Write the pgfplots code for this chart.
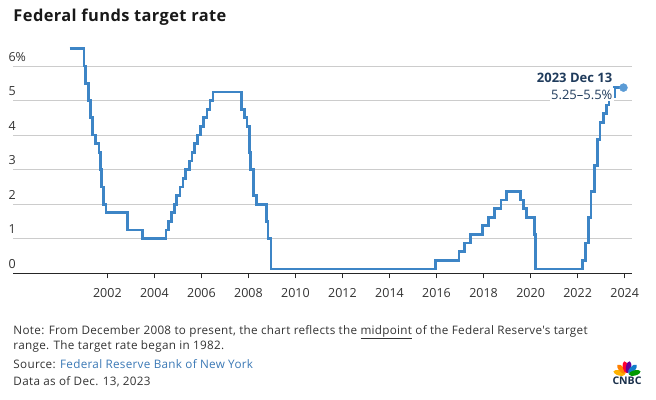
\documentclass[border=0pt]{standalone}
\usepackage{pgfplots}
\pgfplotsset{compat=1.18}
\usepackage{pgfplotstable}
\usepackage{fontspec}
\setmainfont{Open Sans}
\newfontfamily\widefont[LetterSpace=2.5]{Open Sans}

\definecolor{fedblue}{HTML}{3D85C6}
\definecolor{dotblue}{HTML}{5B9BD5}
\definecolor{navy}{HTML}{1F3B5C}
\definecolor{txt}{HTML}{333333}
\definecolor{gridc}{HTML}{CCCCCC}
\definecolor{srcblue}{HTML}{3A78B5}

% target rate (midpoint of range after Dec 2008), decimal year
\pgfplotstableread{
year rate
2000.40 6.5
2001.005 6.0
2001.08 5.5
2001.21 5.0
2001.29 4.5
2001.37 4.0
2001.49 3.75
2001.64 3.5
2001.71 3.0
2001.75 2.5
2001.85 2.0
2001.94 1.75
2002.85 1.25
2003.48 1.0
2004.49 1.25
2004.61 1.5
2004.72 1.75
2004.86 2.0
2004.95 2.25
2005.09 2.5
2005.22 2.75
2005.33 3.0
2005.49 3.25
2005.60 3.5
2005.72 3.75
2005.83 4.0
2005.95 4.25
2006.08 4.5
2006.24 4.75
2006.36 5.0
2006.49 5.25
2007.71 4.75
2007.83 4.5
2007.94 4.25
2008.06 3.5
2008.08 3.0
2008.21 2.25
2008.33 2.0
2008.77 1.5
2008.83 1.0
2008.96 0.125
2015.96 0.375
2016.95 0.625
2017.20 0.875
2017.45 1.125
2017.95 1.375
2018.22 1.625
2018.45 1.875
2018.74 2.125
2018.97 2.375
2019.58 2.125
2019.71 1.875
2019.83 1.625
2020.17 1.125
2020.20 0.125
2022.20 0.375
2022.34 0.875
2022.45 1.625
2022.57 2.375
2022.72 3.125
2022.84 3.875
2022.95 4.375
2023.09 4.625
2023.22 4.875
2023.34 5.125
2023.57 5.375
2023.95 5.375
}\fedrate

\begin{document}
\begin{tikzpicture}
\useasboundingbox (0,0) rectangle (656bp,400bp);
\begin{axis}[
  at={(13.3bp,126.7bp)}, anchor=south west,
  scale only axis, width=618.4bp, height=228bp,
  xmin=1998, xmax=2024.3, ymin=0, ymax=6.6,
  axis x line=bottom, axis y line=left,
  y axis line style={draw=none},
  x axis line style={black!85, line width=1.2bp, -},
  xtick={2002,2004,...,2024},
  xticklabels={2002,2004,2006,2008,2010,2012,2014,2016,2018,2020,2022,2024},
  ytick={0,1,2,3,4,5,6},
  yticklabels={0,1,2,3,4,5,6\%},
  ymajorgrids, major grid style={gridc, line width=1bp},
  tick align=outside, major tick length=5bp,
  x tick style={black!85, line width=1bp},
  y tick style={draw=none},
  xticklabel style={font=\fontsize{12.5bp}{14bp}\selectfont, text=txt, anchor=base, yshift=-19bp},
  yticklabel style={font=\fontsize{12.5bp}{14bp}\selectfont, text=txt, anchor=base west, inner sep=0pt, yshift=5bp},
  clip=false,
]
\addplot[const plot, fedblue, line width=2.7bp] table[x=year, y=rate] {\fedrate};
\addplot[only marks, mark=*, mark size=4bp, dotblue] coordinates {(2023.95,5.375)};
\node[anchor=base east, inner sep=0pt, text=navy, font=\bfseries\fontsize{13bp}{15bp}\selectfont]
  at (axis cs:2023.48,5.517) {2023 Dec 13};
\node[anchor=base east, inner sep=1.5bp, fill=white, text=navy, font=\fontsize{13bp}{15bp}\selectfont]
  at (axis cs:2023.552,5.036) {5.25--5.5\%};
\end{axis}

\node[anchor=base west, inner sep=0pt, text=black!90, font=\widefont\bfseries\fontsize{16.4bp}{18bp}\selectfont]
  at (13.3bp,378.7bp) {Federal funds target rate};

\begin{scope}[font=\widefont\fontsize{11.7bp}{13bp}\selectfont, text=txt]
\node[anchor=base west, inner sep=0pt] at (13.3bp,65.7bp)
  {Note: From December 2008 to present, the chart reflects the \underline{midpoint} of the Federal Reserve's target};
\node[anchor=base west, inner sep=0pt] at (13.3bp,50.7bp)
  {range. The target rate began in 1982.};
\node[anchor=base west, inner sep=0pt] at (13.3bp,31.7bp)
  {Source: \textcolor{srcblue}{Federal Reserve Bank of New York}};
\node[anchor=base west, inner sep=0pt] at (13.3bp,15bp)
  {Data as of Dec. 13, 2023};
\end{scope}

% CNBC peacock
\begin{scope}[shift={(627bp,25bp)}]
\foreach \a/\c in {165/{orange!60!yellow}, 133/orange, 101/{red!80!magenta}, 79/{violet!80!blue}, 47/{cyan!60!blue}, 15/{green!60!black}}
  \fill[\c, rotate=\a] (8bp,0) ellipse (6bp and 2.6bp);
\end{scope}
\node[anchor=base, inner sep=0pt, text=navy!80!black, font=\bfseries\fontsize{10.5bp}{11bp}\selectfont]
  at (627bp,15.7bp) {CNBC};
\end{tikzpicture}
\end{document}
